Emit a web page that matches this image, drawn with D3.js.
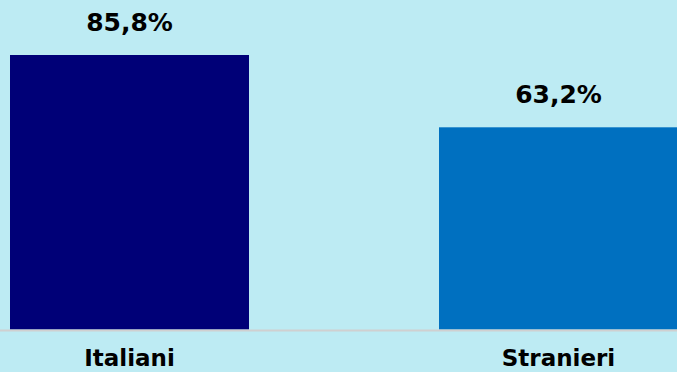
<!DOCTYPE html>
<html><head><meta charset="utf-8">
<script src="https://cdn.jsdelivr.net/npm/d3@7"></script>
<style>html,body{margin:0;padding:0;background:#BDEBF3;}</style>
</head><body>
<script>
const categories = ["Italiani", "Stranieri"];
const values = [85.8, 63.2];
const valueLabels = ["85,8%", "63,2%"];
const colors = ["#000077", "#0070C0"];

const W = 677, H = 372;
const svg = d3.select("body").append("svg").attr("width", W).attr("height", H);
svg.append("rect").attr("width", W).attr("height", H).attr("fill", "#BDEBF3");

const x = d3.scaleBand().domain(categories).range([10, 678]).paddingInner(190/429).paddingOuter(0);
const y = d3.scaleLinear().domain([0, 85.8]).range([329.5, 55]);

svg.selectAll("rect.bar").data(values).enter().append("rect")
  .attr("class", "bar")
  .attr("x", (d, i) => x(categories[i]))
  .attr("width", x.bandwidth())
  .attr("y", d => y(d))
  .attr("height", d => y(0) - y(d))
  .attr("fill", (d, i) => colors[i]);

svg.append("line").attr("x1", 0).attr("x2", W).attr("y1", 330.5).attr("y2", 330.5)
  .attr("stroke", "#D0D0D0").attr("stroke-width", 2);

svg.selectAll("text.val").data(values).enter().append("text")
  .attr("class", "val")
  .attr("x", (d, i) => x(categories[i]) + x.bandwidth() / 2)
  .attr("y", d => y(d) - 24)
  .attr("text-anchor", "middle")
  .attr("font-family", "DejaVu Sans")
  .attr("font-weight", "bold")
  .attr("font-size", 25)
  .attr("fill", "#000")
  .text((d, i) => valueLabels[i]);

svg.selectAll("text.cat").data(categories).enter().append("text")
  .attr("class", "cat")
  .attr("x", d => x(d) + x.bandwidth() / 2)
  .attr("y", 366)
  .attr("text-anchor", "middle")
  .attr("font-family", "DejaVu Sans")
  .attr("font-weight", "bold")
  .attr("font-size", 23)
  .attr("fill", "#000")
  .text(d => d);
</script>
</body></html>
